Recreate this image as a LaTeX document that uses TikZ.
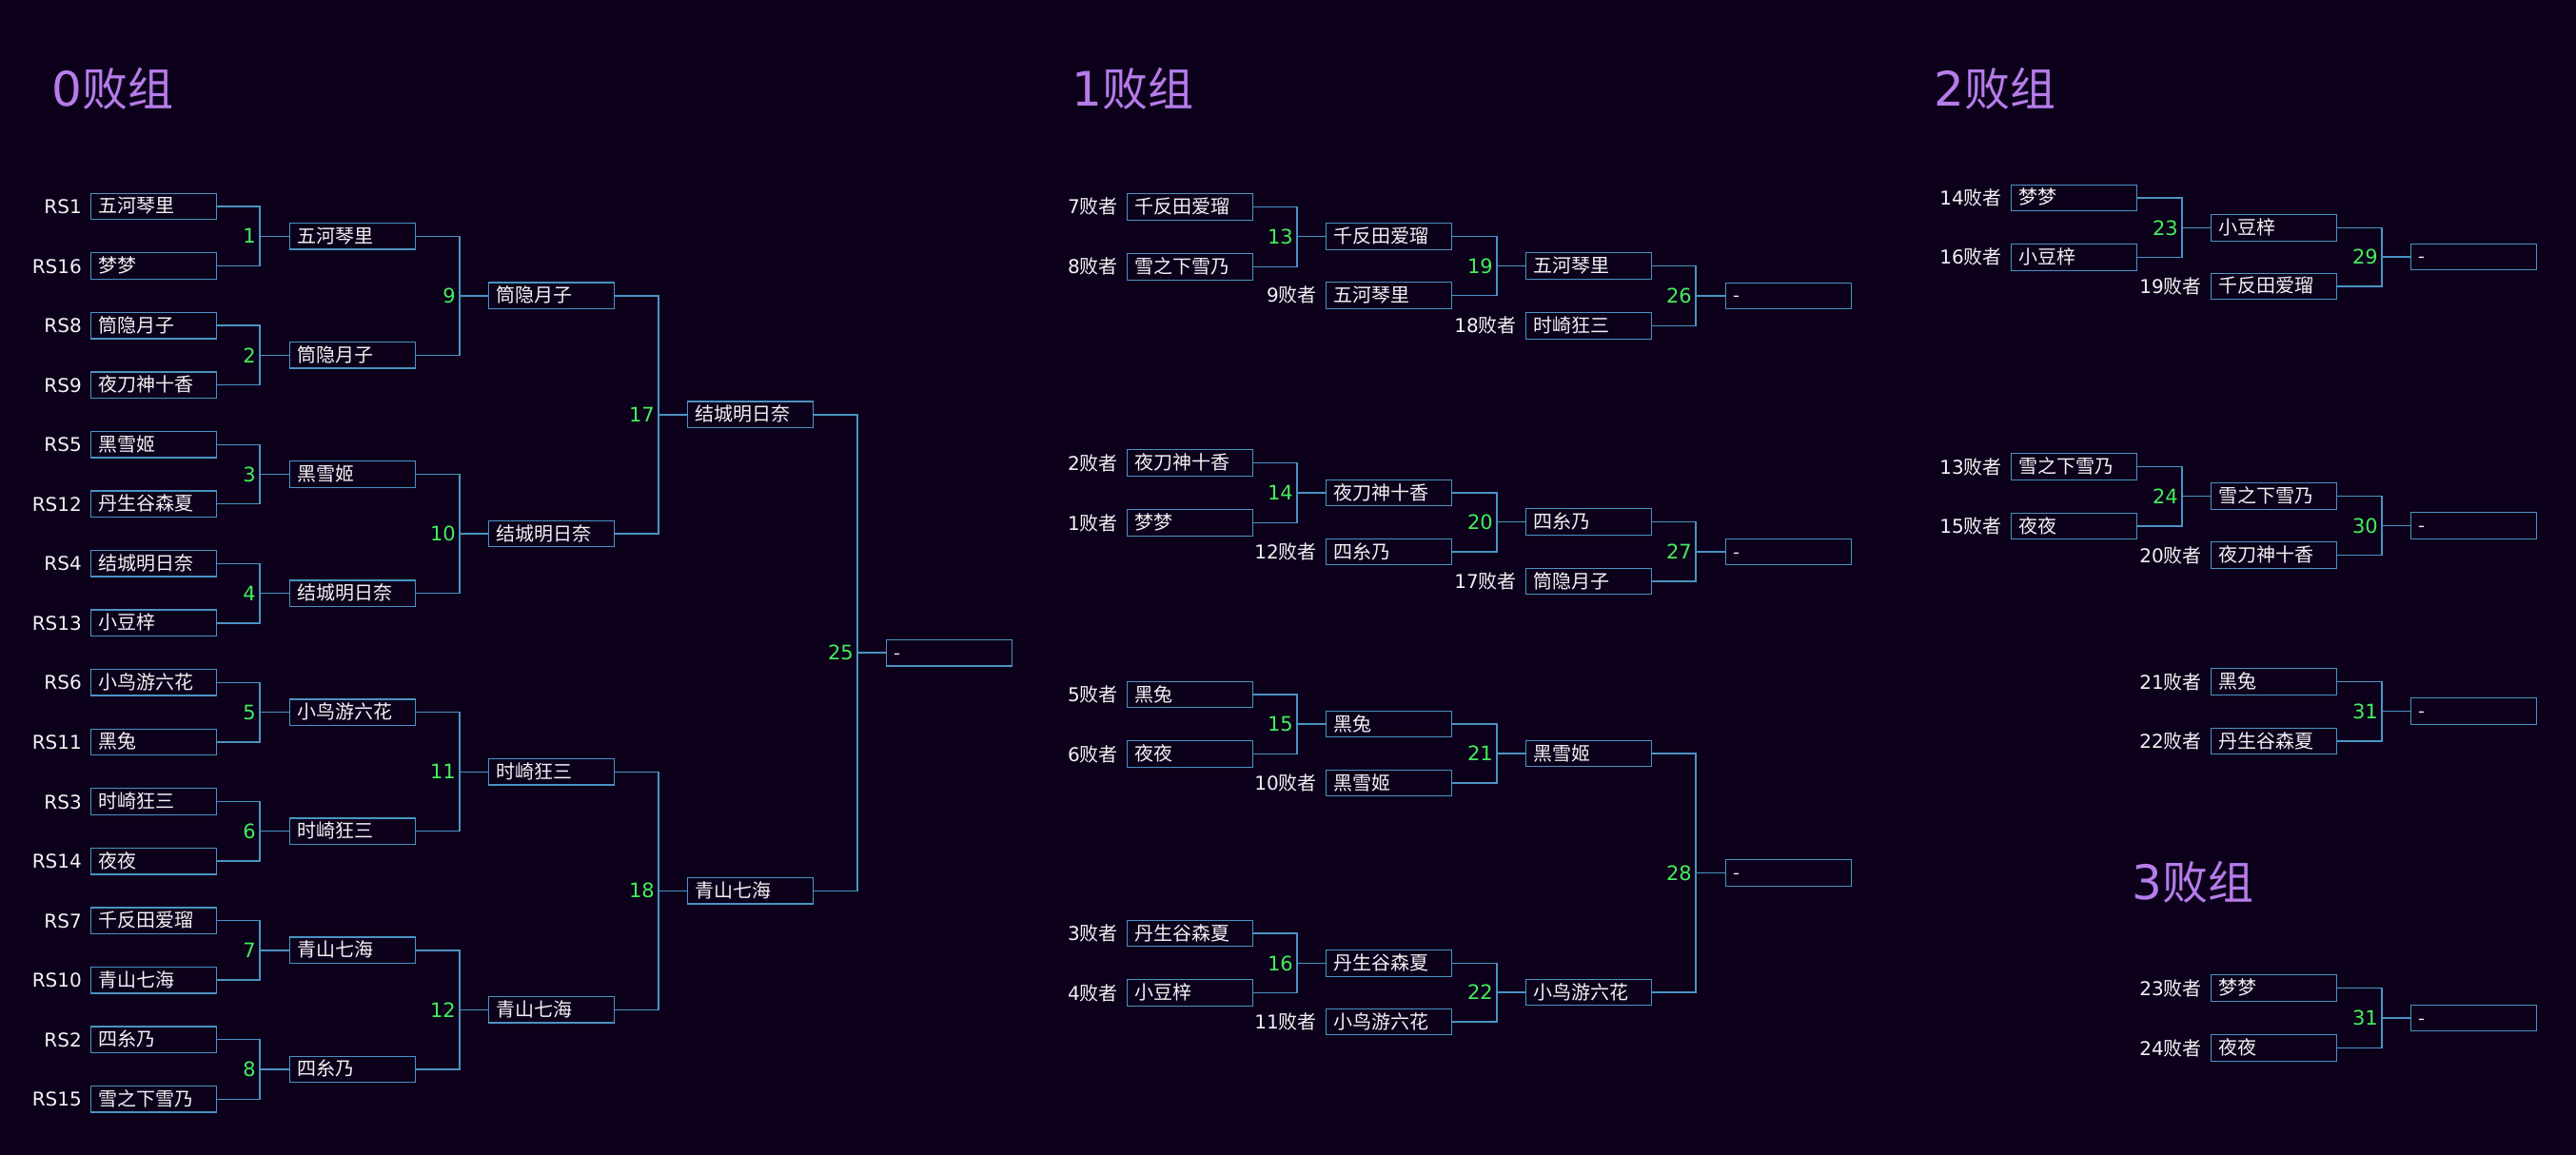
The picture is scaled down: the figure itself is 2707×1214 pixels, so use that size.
\documentclass[tikz,border=0pt]{standalone}
\usepackage{fontspec}
\setmainfont{DejaVu Sans}
\newfontfamily\cjk{Noto Sans CJK SC}
\definecolor{bgc}{HTML}{0C001B}
\definecolor{boxc}{HTML}{4A93C4}
\definecolor{conc}{HTML}{4A93C4}
\definecolor{txtc}{HTML}{F2F2F2}
\definecolor{grn}{HTML}{44EE5A}
\definecolor{ttlc}{HTML}{B67CEA}
\newcommand{\bz}{{\cjk 败者}}
\newcommand{\tcjk}[1]{{\cjk\fontsize{48}{58}\selectfont #1}}
\tikzset{
  pbox/.style={draw=boxc, line width=1.4pt, fill=bgc, anchor=west,
    minimum width=132pt, minimum height=27.5pt, text width=116pt,
    inner xsep=8pt, inner ysep=0pt, align=left, text height=17pt, text depth=3pt,
    text=txtc, font=\fontsize{20}{24}\selectfont\cjk},
  lab/.style={anchor=east, inner sep=0pt, text=txtc, text height=15pt, text depth=0pt,
    font=\fontsize{20}{24}\selectfont},
  num/.style={anchor=east, inner sep=0pt, text=grn, text height=15.3pt, text depth=0pt,
    font=\fontsize{21}{24}\selectfont},
  conn/.style={draw=conc, line width=1.4pt},
  ttl/.style={anchor=base west, inner sep=0pt, text=ttlc, font=\fontsize{50}{60}\selectfont}
}
\newcommand{\pb}[4]{\node[pbox] (#1) at (#2,#3) {#4};}
\newcommand{\lb}[2]{\node[lab] (lab#1) at ([xshift=-9pt]#1.west) {#2};}
\newcommand{\mt}[7]{%
  \coordinate (j#1) at (#3,#4);
  \draw[conn] (#5.east) -| (j#1) |- (#6.east);
  \draw[conn] (j#1) -- (#7.west);
  \node[num] (n#1) at ([xshift=-4pt]j#1) {#2};}
\begin{document}
\begin{tikzpicture}[x=1pt,y=-1pt]
\fill[bgc] (0,0) rectangle (2707,1214);
\useasboundingbox (0,0) rectangle (2707,1214);

% titles
\node[ttl] (t0) at (54,112) {0\tcjk{败组}};
\node[ttl] (t1) at (1126,112) {1\tcjk{败组}};
\node[ttl] (t2) at (2032,112) {2\tcjk{败组}};
\node[ttl] (t3) at (2240,945) {3\tcjk{败组}};

% ===== 0败组 =====
\pb{L1}{95}{217}{五河琴里}       \lb{L1}{RS1}
\pb{L2}{95}{279.55}{梦梦}        \lb{L2}{RS16}
\pb{L3}{95}{342.1}{筒隐月子}     \lb{L3}{RS8}
\pb{L4}{95}{404.65}{夜刀神十香}  \lb{L4}{RS9}
\pb{L5}{95}{467.2}{黑雪姬}       \lb{L5}{RS5}
\pb{L6}{95}{529.75}{丹生谷森夏}  \lb{L6}{RS12}
\pb{L7}{95}{592.3}{结城明日奈}   \lb{L7}{RS4}
\pb{L8}{95}{654.85}{小豆梓}      \lb{L8}{RS13}
\pb{L9}{95}{717.4}{小鸟游六花}   \lb{L9}{RS6}
\pb{L10}{95}{779.95}{黑兔}       \lb{L10}{RS11}
\pb{L11}{95}{842.5}{时崎狂三}    \lb{L11}{RS3}
\pb{L12}{95}{905.05}{夜夜}       \lb{L12}{RS14}
\pb{L13}{95}{967.6}{千反田爱瑠}  \lb{L13}{RS7}
\pb{L14}{95}{1030.15}{青山七海}  \lb{L14}{RS10}
\pb{L15}{95}{1092.7}{四糸乃}     \lb{L15}{RS2}
\pb{L16}{95}{1155.25}{雪之下雪乃}\lb{L16}{RS15}

\pb{W1}{304}{248.28}{五河琴里}
\pb{W2}{304}{373.38}{筒隐月子}
\pb{W3}{304}{498.48}{黑雪姬}
\pb{W4}{304}{623.58}{结城明日奈}
\pb{W5}{304}{748.68}{小鸟游六花}
\pb{W6}{304}{873.78}{时崎狂三}
\pb{W7}{304}{998.88}{青山七海}
\pb{W8}{304}{1123.98}{四糸乃}
\pb{W9}{513}{310.83}{筒隐月子}
\pb{W10}{513}{561.03}{结城明日奈}
\pb{W11}{513}{811.23}{时崎狂三}
\pb{W12}{513}{1061.43}{青山七海}
\pb{W17}{722}{435.93}{结城明日奈}
\pb{W18}{722}{936.33}{青山七海}
\pb{W25}{931}{686.13}{-}

\mt{1}{1}{273}{248.28}{L1}{L2}{W1}
\mt{2}{2}{273}{373.38}{L3}{L4}{W2}
\mt{3}{3}{273}{498.48}{L5}{L6}{W3}
\mt{4}{4}{273}{623.58}{L7}{L8}{W4}
\mt{5}{5}{273}{748.68}{L9}{L10}{W5}
\mt{6}{6}{273}{873.78}{L11}{L12}{W6}
\mt{7}{7}{273}{998.88}{L13}{L14}{W7}
\mt{8}{8}{273}{1123.98}{L15}{L16}{W8}
\mt{9}{9}{483}{310.83}{W1}{W2}{W9}
\mt{10}{10}{483}{561.03}{W3}{W4}{W10}
\mt{11}{11}{483}{811.23}{W5}{W6}{W11}
\mt{12}{12}{483}{1061.43}{W7}{W8}{W12}
\mt{17}{17}{692}{435.93}{W9}{W10}{W17}
\mt{18}{18}{692}{936.33}{W11}{W12}{W18}
\mt{25}{25}{901}{686.13}{W17}{W18}{W25}

% ===== 1败组 =====
\pb{A13}{1184}{217.5}{千反田爱瑠} \lb{A13}{7\bz}
\pb{B13}{1184}{280.5}{雪之下雪乃} \lb{B13}{8\bz}
\pb{W13}{1393}{248.5}{千反田爱瑠}
\pb{B19}{1393}{310.5}{五河琴里}   \lb{B19}{9\bz}
\pb{W19}{1603}{279.5}{五河琴里}
\pb{B26}{1603}{342.5}{时崎狂三}   \lb{B26}{18\bz}
\pb{W26}{1813}{311}{-}
\mt{13}{13}{1363}{248.5}{A13}{B13}{W13}
\mt{19}{19}{1573}{279.5}{W13}{B19}{W19}
\mt{26}{26}{1782}{311}{W19}{B26}{W26}

\pb{A14}{1184}{486.5}{夜刀神十香} \lb{A14}{2\bz}
\pb{B14}{1184}{549.5}{梦梦}       \lb{B14}{1\bz}
\pb{W14}{1393}{518}{夜刀神十香}
\pb{B20}{1393}{580}{四糸乃}       \lb{B20}{12\bz}
\pb{W20}{1603}{548.5}{四糸乃}
\pb{B27}{1603}{611}{筒隐月子}     \lb{B27}{17\bz}
\pb{W27}{1813}{580}{-}
\mt{14}{14}{1363}{518}{A14}{B14}{W14}
\mt{20}{20}{1573}{548.5}{W14}{B20}{W20}
\mt{27}{27}{1782}{580}{W20}{B27}{W27}

\pb{A15}{1184}{730}{黑兔}         \lb{A15}{5\bz}
\pb{B15}{1184}{792.5}{夜夜}       \lb{B15}{6\bz}
\pb{W15}{1393}{761}{黑兔}
\pb{B21}{1393}{823}{黑雪姬}       \lb{B21}{10\bz}
\pb{W21}{1603}{792}{黑雪姬}
\mt{15}{15}{1363}{761}{A15}{B15}{W15}
\mt{21}{21}{1573}{792}{W15}{B21}{W21}

\pb{A16}{1184}{981}{丹生谷森夏}   \lb{A16}{3\bz}
\pb{B16}{1184}{1043.5}{小豆梓}    \lb{B16}{4\bz}
\pb{W16}{1393}{1012.5}{丹生谷森夏}
\pb{B22}{1393}{1074}{小鸟游六花}  \lb{B22}{11\bz}
\pb{W22}{1603}{1043}{小鸟游六花}
\mt{16}{16}{1363}{1012.5}{A16}{B16}{W16}
\mt{22}{22}{1573}{1043}{W16}{B22}{W22}

\pb{W28}{1813}{917.5}{-}
\mt{28}{28}{1782}{917.5}{W21}{W22}{W28}

% ===== 2败组 =====
\pb{A23}{2113}{208}{梦梦}         \lb{A23}{14\bz}
\pb{B23}{2113}{270.5}{小豆梓}     \lb{B23}{16\bz}
\pb{W23}{2323}{239.5}{小豆梓}
\pb{B29}{2323}{301}{千反田爱瑠}   \lb{B29}{19\bz}
\pb{W29}{2533}{270}{-}
\mt{23}{23}{2293}{239.5}{A23}{B23}{W23}
\mt{29}{29}{2503}{270}{W23}{B29}{W29}

\pb{A24}{2113}{490.5}{雪之下雪乃} \lb{A24}{13\bz}
\pb{B24}{2113}{553}{夜夜}         \lb{B24}{15\bz}
\pb{W24}{2323}{521.5}{雪之下雪乃}
\pb{B30}{2323}{583.5}{夜刀神十香} \lb{B30}{20\bz}
\pb{W30}{2533}{552.5}{-}
\mt{24}{24}{2293}{521.5}{A24}{B24}{W24}
\mt{30}{30}{2503}{552.5}{W24}{B30}{W30}

\pb{A31}{2323}{716.5}{黑兔}       \lb{A31}{21\bz}
\pb{B31}{2323}{779}{丹生谷森夏}   \lb{B31}{22\bz}
\pb{W31}{2533}{747.5}{-}
\mt{31}{31}{2503}{747.5}{A31}{B31}{W31}

% ===== 3败组 =====
\pb{A31b}{2323}{1038.5}{梦梦}     \lb{A31b}{23\bz}
\pb{B31b}{2323}{1101.5}{夜夜}     \lb{B31b}{24\bz}
\pb{W31b}{2533}{1070}{-}
\mt{31b}{31}{2503}{1070}{A31b}{B31b}{W31b}
\end{tikzpicture}
\end{document}
